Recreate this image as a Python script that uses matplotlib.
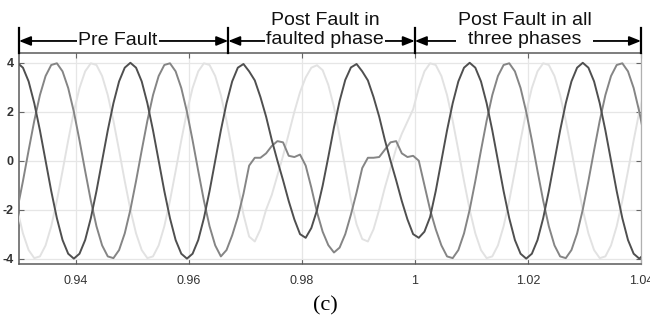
import numpy as np
import matplotlib
matplotlib.use("Agg")
import matplotlib.pyplot as plt
from matplotlib import transforms

plt.rcParams["font.family"] = ["Liberation Sans", "DejaVu Sans"]
plt.rcParams["axes.unicode_minus"] = False

T_START = 0.9297   # time of first sample (s)
T_STEP = 0.001     # sample spacing (s)

phase_dark = [
    4.00, 3.80, 3.24, 2.35, 1.24, 0.00, -1.24, -2.35, -3.24, -3.80,
    -4.00, -3.80, -3.24, -2.35, -1.24, 0.00, 1.24, 2.35, 3.24, 3.80,
    4.00, 3.80, 3.24, 2.35, 1.24, 0.00, -1.24, -2.35, -3.24, -3.80,
    -4.00, -3.80, -3.24, -2.35, -1.24, 0.00, 1.24, 2.35, 3.24, 3.80,
    3.95, 3.65, 3.28, 2.60, 1.80, 0.85, 0.00, -0.80, -1.65, -2.40,
    -3.00, -3.15, -2.75, -2.02, -1.02, 0.15, 1.36, 2.44, 3.30, 3.81,
    3.95, 3.65, 3.28, 2.60, 1.80, 0.85, 0.00, -0.80, -1.65, -2.40,
    -3.00, -3.15, -2.90, -2.30, -1.24, 0.00, 1.24, 2.35, 3.24, 3.80,
    4.00, 3.80, 3.24, 2.35, 1.24, 0.00, -1.24, -2.35, -3.24, -3.80,
    -4.00, -3.80, -3.24, -2.35, -1.24, 0.00, 1.24, 2.35, 3.24, 3.80,
    4.00, 3.80, 3.24, 2.35, 1.24, 0.00, -1.24, -2.35, -3.24, -3.80,
    -4.00, -3.80,
]

phase_mid = [
    -2.00, -0.83, 0.42, 1.63, 2.68, 3.46, 3.91, 3.98, 3.65, 2.97,
    2.00, 0.83, -0.42, -1.63, -2.68, -3.46, -3.91, -3.98, -3.65, -2.97,
    -2.00, -0.83, 0.42, 1.63, 2.68, 3.46, 3.91, 3.98, 3.65, 2.97,
    2.00, 0.83, -0.42, -1.63, -2.68, -3.46, -3.91, -3.65, -3.05, -2.30,
    -1.35, -0.20, 0.12, 0.12, 0.30, 0.60, 0.80, 0.75, 0.20, 0.15,
    0.25, -0.20, -1.10, -2.10, -2.90, -3.45, -3.75, -3.55, -3.00, -2.20,
    -1.30, -0.30, 0.12, 0.12, 0.15, 0.45, 0.75, 0.80, 0.30, 0.15,
    0.20, 0.00, -1.00, -2.00, -2.80, -3.46, -3.91, -3.98, -3.65, -2.97,
    -2.00, -0.83, 0.42, 1.63, 2.68, 3.46, 3.91, 3.98, 3.65, 2.97,
    2.00, 0.83, -0.42, -1.63, -2.68, -3.46, -3.91, -3.98, -3.65, -2.97,
    -2.00, -0.83, 0.42, 1.63, 2.68, 3.46, 3.91, 3.98, 3.65, 2.97,
    2.00, 0.83,
]

phase_light = [
    -2.00, -2.97, -3.65, -3.98, -3.91, -3.46, -2.68, -1.63, -0.42, 0.83,
    2.00, 2.97, 3.65, 3.98, 3.91, 3.46, 2.68, 1.63, 0.42, -0.83,
    -2.00, -2.97, -3.65, -3.98, -3.91, -3.46, -2.68, -1.63, -0.42, 0.83,
    2.00, 2.97, 3.65, 3.98, 3.91, 3.46, 2.68, 1.63, 0.42, -1.00,
    -2.20, -3.10, -3.30, -2.80, -2.00, -1.40, -0.60, 0.20, 1.10, 2.00,
    2.80, 3.40, 3.80, 3.90, 3.70, 3.10, 2.20, 1.00, -0.30, -1.60,
    -2.60, -3.20, -3.30, -2.80, -2.00, -1.10, -0.30, 0.50, 1.10, 1.60,
    2.10, 2.97, 3.65, 3.98, 3.91, 3.46, 2.68, 1.63, 0.42, -0.83,
    -2.00, -2.97, -3.65, -3.98, -3.91, -3.46, -2.68, -1.63, -0.42, 0.83,
    2.00, 2.97, 3.65, 3.98, 3.91, 3.46, 2.68, 1.63, 0.42, -0.83,
    -2.00, -2.97, -3.65, -3.98, -3.91, -3.46, -2.68, -1.63, -0.42, 0.83,
    2.00, 2.97,
]

x_ticks = [0.94, 0.96, 0.98, 1.0, 1.02, 1.04]
x_tick_labels = ["0.94", "0.96", "0.98", "1", "1.02", "1.04"]
y_ticks = [-4, -2, 0, 2, 4]
y_tick_labels = ["-4", "-2", "0", "2", "4"]

# stage boundaries and labels (s)
stage_edges = [0.93, 0.967, 1.0, 1.04]
stage_labels = ["Pre Fault", "Post Fault in\nfaulted phase", "Post Fault in all\nthree phases"]
stage_label_x = [0.9475, 0.9841, 1.0194]

# ── Colours ──────────────────────────────────────────────────────────────────
C_DARK = "#4f4f4f"
C_MID = "#858585"
C_LIGHT = "#e2e2e2"

t = T_START + T_STEP * np.arange(len(phase_dark))

fig = plt.figure(figsize=(6.5, 3.26), dpi=100)
ax = fig.add_axes([19 / 650, 1 - 264 / 326, 622 / 650, 211 / 326])

ax.plot(t, phase_light, color=C_LIGHT, lw=1.4, zorder=3)
ax.plot(t, phase_mid, color=C_MID, lw=1.4, zorder=4)
ax.plot(t, phase_dark, color=C_DARK, lw=1.4, zorder=5)

ax.set_xlim(0.93, 1.04)
ax.set_ylim(-4.22, 4.4)
ax.set_xticks(x_ticks)
ax.set_xticklabels(x_tick_labels, fontsize=9, color="#333333")
ax.set_yticks(y_ticks)
ax.set_yticklabels(y_tick_labels, fontsize=9, color="#333333", fontweight="bold")
ax.tick_params(direction="in", length=3.5, width=0.8, colors="#666666",
               top=True, right=True)
ax.tick_params(axis="x", pad=8, labelcolor="#333333")
ax.tick_params(axis="y", pad=4, labelcolor="#333333")
ax.grid(True, color="#e6e6e6", lw=0.9)
ax.set_axisbelow(True)
for side in ["left", "bottom", "top"]:
    ax.spines[side].set_color("#5a5a5a")
    ax.spines[side].set_linewidth(1.1)
ax.spines["right"].set_color("#b0b0b0")
ax.spines["right"].set_linewidth(0.9)

# ── Stage annotations above the axes ─────────────────────────────────────────
trans = transforms.blended_transform_factory(ax.transData, ax.transAxes)
ARROW_Y = 1.057
for x in stage_edges:
    ax.plot([x, x], [1.0, 1.118], transform=trans, color="black", lw=1.6,
            clip_on=False, zorder=6)
for i in range(len(stage_labels)):
    ax.annotate("", xy=(stage_edges[i], ARROW_Y), xytext=(stage_edges[i + 1], ARROW_Y),
                xycoords=trans, textcoords=trans, annotation_clip=False,
                arrowprops=dict(arrowstyle="<|-|>,head_length=0.5,head_width=0.2",
                                mutation_scale=14, lw=1.3, color="black",
                                shrinkA=0, shrinkB=0),
                zorder=2)
    n_lines = stage_labels[i].count("\n") + 1
    y_txt = ARROW_Y if n_lines == 1 else 1.109
    ax.text(stage_label_x[i], y_txt, stage_labels[i], transform=trans,
            ha="center", va="center", fontsize=14, color="#111111",
            linespacing=1.15, zorder=7,
            bbox=dict(facecolor="white", edgecolor="none", pad=1.0))

fig.text(0.5, 0.061, "(c)", ha="center", va="center", fontsize=16,
         family=["Liberation Serif", "DejaVu Serif"])

plt.savefig("out.png", dpi=100)
plt.close()
